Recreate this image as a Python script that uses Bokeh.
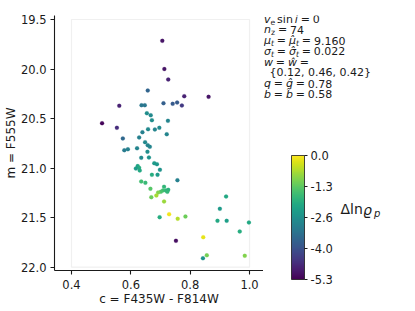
from bokeh.plotting import figure
from bokeh.layouts import row
from bokeh.models import (ColumnDataSource, LinearColorMapper, ColorBar, FixedTicker,
                          BoxAnnotation, Label, Range1d, PrintfTickFormatter)
from bokeh.palettes import Viridis256
from bokeh.embed import file_html
from bokeh.resources import INLINE

# ---- data ----
colour_c = [0.706, 0.713, 0.726, 0.657, 0.780, 0.862, 0.561, 0.636, 0.647, 0.710,
            0.741, 0.756, 0.772, 0.654, 0.667, 0.671, 0.725, 0.503, 0.553, 0.658,
            0.681, 0.696, 0.639, 0.721, 0.573, 0.628, 0.648, 0.657, 0.664, 0.578,
            0.590, 0.621, 0.656, 0.635, 0.661, 0.679, 0.688, 0.623, 0.628, 0.617,
            0.630, 0.698, 0.671, 0.690, 0.635, 0.649, 0.757, 0.712, 0.666, 0.708,
            0.718, 0.726, 0.723, 0.701, 0.692, 0.686, 0.669, 0.712, 0.729, 0.784,
            0.697, 0.758, 0.752, 0.844, 0.921, 0.900, 0.892, 0.923, 0.998, 0.967,
            0.856, 0.843, 0.984]
mag_m = [19.715, 20.000, 20.106, 20.217, 20.274, 20.281, 20.371, 20.365, 20.365, 20.345,
         20.351, 20.338, 20.368, 20.446, 20.466, 20.516, 20.523, 20.547, 20.593, 20.607,
         20.610, 20.593, 20.638, 20.658, 20.700, 20.690, 20.738, 20.769, 20.785, 20.820,
         20.810, 20.800, 20.835, 20.896, 20.893, 20.950, 20.960, 20.980, 20.997, 21.004,
         21.024, 21.017, 21.068, 21.068, 21.135, 21.148, 21.122, 21.189, 21.209, 21.226,
         21.226, 21.219, 21.239, 21.239, 21.246, 21.277, 21.294, 21.337, 21.465, 21.489,
         21.495, 21.511, 21.734, 21.697, 21.287, 21.411, 21.532, 21.532, 21.549, 21.640,
         21.880, 21.910, 21.885]
dlnrho = [-5.0, -5.0, -4.8, -3.6, -4.8, -5.0, -4.8, -3.2, -3.2, -3.7,
          -3.8, -3.8, -4.4, -2.7, -2.8, -2.7, -2.9, -5.2, -4.6, -2.8,
          -2.9, -2.8, -3.0, -2.9, -3.5, -3.0, -2.8, -2.9, -2.9, -3.1,
          -3.0, -2.9, -2.7, -2.8, -2.6, -2.4, -2.5, -2.2, -2.0, -2.4,
          -2.1, -2.6, -2.0, -2.4, -1.6, -1.7, -3.0, -1.8, -1.4, -1.6,
          -1.8, -1.9, -1.8, -1.5, -1.0, -0.7, -1.2, -0.8, -0.1, -1.2,
          -2.0, -0.6, -5.1, -0.2, -2.1, -2.4, -2.1, -2.3, -2.1, -2.0,
          -1.1, -2.6, -1.0]

x_ticks = [0.4, 0.6, 0.8, 1.0]
y_ticks = [19.5, 20.0, 20.5, 21.0, 21.5, 22.0]
box_x = [0.4, 1.0]
box_y = [19.5, 22.0]
cbar_low, cbar_high = -5.3, 0.0
cbar_ticks = [-5.3, -3.975, -2.65, -1.325, 0.0]
cbar_labels = ["-5.3", "-4.0", "-2.6", "-1.3", "0.0"]

# fit summary values
n_z = "74"
mu_t = "9.160"
sigma_t = "0.022"
w_vals = "{0.12, 0.46, 0.42}"
q_val = "0.78"
b_val = "0.58"

# ---- layout (page pixels) ----
FL, FT, FW, FH = 53, 15, 209, 255
PX_X = 296.7   # px per colour unit
PX_Y = 99.07   # px per magnitude
X0 = 0.4 - 17 / PX_X
X1 = X0 + FW / PX_X
Y_TOP = 19.5 - 4 / PX_Y
Y_BOT = Y_TOP + FH / PX_Y
W_TOTAL, H_TOTAL = 415, 311
MAIN_W = FL + FW
FB = H_TOTAL - FT - FH
FONT = "DejaVu Sans"
INK = "#1a1a1a"

p = figure(frame_width=FW, frame_height=FH,
           x_range=Range1d(X0, X1), y_range=Range1d(Y_BOT, Y_TOP),
           output_backend="svg", toolbar_location=None,
           min_border_left=FL, min_border_top=FT, min_border_right=0,
           min_border_bottom=FB)
p.outline_line_color = None
p.grid.visible = False
p.background_fill_color = "white"
p.border_fill_color = "white"

for ax in (p.xaxis[0], p.yaxis[0]):
    ax.axis_line_color = INK
    ax.axis_line_width = 1.1
    ax.major_tick_line_color = INK
    ax.major_tick_line_width = 1.1
    ax.major_tick_out = 4
    ax.major_tick_in = 0
    ax.minor_tick_line_color = None
    ax.major_label_text_font = FONT
    ax.major_label_text_font_size = "11.5px"
    ax.major_label_text_color = INK
    ax.axis_label_standoff = 0
    ax.axis_label_text_font = FONT
    ax.axis_label_text_font_size = "12px"
    ax.axis_label_text_font_style = "normal"
    ax.axis_label_text_color = INK
    ax.formatter = PrintfTickFormatter(format="%.1f")
p.xaxis.major_label_standoff = 5
p.yaxis.major_label_standoff = 4

p.xaxis.ticker = FixedTicker(ticks=x_ticks)
p.yaxis.ticker = FixedTicker(ticks=y_ticks)
p.xaxis.axis_label = "c = F435W - F814W"
p.yaxis.axis_label = "m = F555W"

p.add_layout(BoxAnnotation(left=box_x[0], right=box_x[1], top=box_y[0], bottom=box_y[1],
                           fill_alpha=0, line_color="#cccccc", line_width=1.2, level="underlay"))

mapper = LinearColorMapper(palette=Viridis256, low=cbar_low, high=cbar_high)
src = ColumnDataSource(dict(x=colour_c, y=mag_m, z=dlnrho))
p.scatter("x", "y", source=src, size=4,
          fill_color={"field": "z", "transform": mapper},
          line_color={"field": "z", "transform": mapper}, line_width=0.2)

# ---- side panel: annotation text + colour bar (data coords = page pixels) ----
side = figure(frame_width=W_TOTAL - MAIN_W, frame_height=FH,
              x_range=Range1d(MAIN_W, W_TOTAL), y_range=Range1d(FT + FH, FT),
              output_backend="svg", toolbar_location=None,
              x_axis_location=None, y_axis_location=None,
              min_border_left=0, min_border_right=0,
              min_border_top=FT, min_border_bottom=FB)
side.outline_line_color = None
side.grid.visible = False
side.background_fill_color = "white"
side.border_fill_color = "white"

BAR_LEFT, BAR_BOTTOM, BAR_W, BAR_H = 290, 279, 13, 124
cb = ColorBar(color_mapper=mapper, location=(BAR_LEFT - MAIN_W, (FT + FH) - BAR_BOTTOM),
              width=BAR_W, height=BAR_H, padding=0, margin=0,
              ticker=FixedTicker(ticks=cbar_ticks),
              major_label_overrides=dict(zip(cbar_ticks, cbar_labels)),
              major_tick_in=0, major_tick_out=3, major_tick_line_color=INK,
              minor_tick_line_color=None,
              label_standoff=3, major_label_text_font=FONT,
              major_label_text_font_size="11.5px", major_label_text_color=INK,
              bar_line_color=INK, bar_line_width=0.8,
              border_line_color=None, background_fill_alpha=0)
side.add_layout(cb)


def lab(text, x, y, size, italic=False):
    side.add_layout(Label(x=x, y=y, text=text, text_font=FONT,
                          text_font_size=f"{size:.1f}px",
                          text_font_style="italic" if italic else "normal",
                          text_color=INK, text_baseline="middle", text_align="left"))


# DejaVu Sans advance widths (em)
ADV = {"v": 0.592, "e": 0.615, "s": 0.521, "i": 0.278, "n": 0.634, "z": 0.525,
       "\u03bc": 0.636, "t": 0.392, "\u03c3": 0.634, "w": 0.818, "\u0175": 0.818,
       "q": 0.635, "b": 0.635, "=": 0.838, ".": 0.318, " ": 0.318, ",": 0.318,
       "{": 0.636, "}": 0.636, "\u0302": 0.0}
for d in "0123456789":
    ADV[d] = 0.636

FS = 11.0
SUBF = 0.7
REL = 0.26   # space around relations (em)


def text_line(y, segs, x=262.5):
    for kind, txt in segs:
        if kind == "sp":
            x += txt * FS
            continue
        sub = kind.startswith("sub")
        italic = kind.endswith("it")
        size = FS * SUBF if sub else FS
        lab(txt, x, y + (3 if sub else 0), size, italic)
        x += sum(ADV.get(ch, 0.6) for ch in txt) * size


EQ = [("sp", REL), ("rm", "="), ("sp", REL)]
LS = 10.75
Y1 = 18.5
text_line(Y1, [("it", "v"), ("sub_rm", "e"), ("sp", 0.17), ("rm", "sin"), ("sp", 0.17),
               ("it", "i")] + EQ + [("rm", "0")])
text_line(Y1 + LS, [("it", "n"), ("sub_rm", "z")] + EQ + [("rm", n_z)])
text_line(Y1 + 2 * LS, [("it", "\u03bc"), ("sub_it", "t")] + EQ +
          [("it", "\u03bc\u0302"), ("sub_it", "t")] + EQ + [("rm", mu_t)])
text_line(Y1 + 3 * LS, [("it", "\u03c3"), ("sub_it", "t")] + EQ +
          [("it", "\u03c3\u0302"), ("sub_it", "t")] + EQ + [("rm", sigma_t)])
text_line(Y1 + 4 * LS, [("it", "w")] + EQ + [("it", "\u0175")] + EQ)
text_line(Y1 + 5 * LS, [("sp", 0.5), ("rm", w_vals)])
text_line(Y1 + 6 * LS, [("it", "q")] + EQ + [("it", "q\u0302")] + EQ + [("rm", q_val)])
text_line(Y1 + 7 * LS, [("it", "b")] + EQ + [("it", "b\u0302")] + EQ + [("rm", b_val)])

# colour-bar label
lab("\u0394ln", 339, 208, 14)
lab("\u03f1", 361.5, 209, 14, True)
lab("p", 372.5, 213, 10, True)

layout = row(p, side)
open("out.html", "w").write(file_html(layout, INLINE))
